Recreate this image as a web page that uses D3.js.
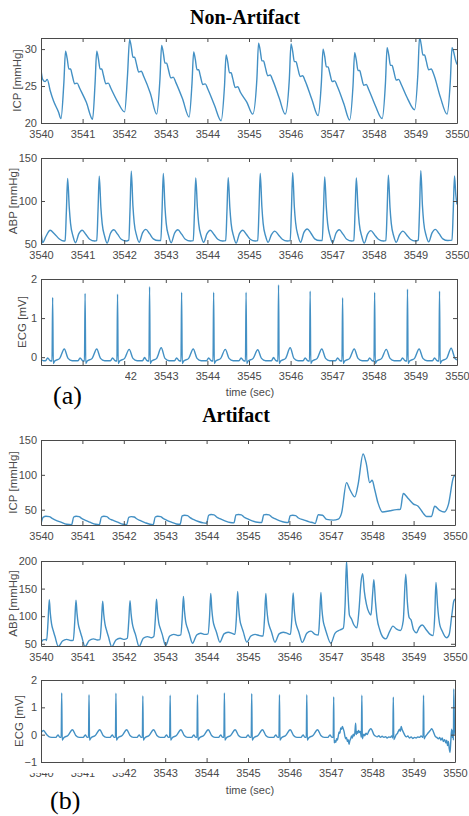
<!DOCTYPE html>
<html>
<head>
<meta charset="utf-8">
<script src="https://cdn.jsdelivr.net/npm/d3@7"></script>
<style>
  body { margin: 0; background: #fff; }
  .tick text { font-family: "Liberation Sans", Arial, sans-serif; font-size: 11px; fill: #4a4a4a; }
  .domain, .tick line { stroke: #4a4a4a; stroke-width: 1; }
</style>
</head>
<body>
<script>
// time axis: seconds, data times are offsets from T0
const T0 = 3540;
const xTickValues = [3540, 3541, 3542, 3543, 3544, 3545, 3546, 3547, 3548, 3549, 3550];

// ---- (a) Non-Artifact ----
const icpNon = [
  [0,27.2],[0.04,25.9],[0.10,25.6],[0.15,25.9],[0.22,24.4],[0.30,23.0],[0.42,21.5],
  [0.48,20.6],[0.55,25.5],[0.59,29.7],[0.63,28.7],[0.67,27.3],[0.71,27.3],[0.75,26.5],[0.81,25.3],[0.87,25.4],[0.93,24.7],[1.09,22.8],
  [1.24,20.5],[1.30,25.4],[1.34,29.7],[1.38,28.7],[1.42,27.3],[1.46,27.3],[1.50,26.5],[1.56,25.3],[1.62,25.4],[1.68,24.7],[1.84,22.9],
  [2.01,21.5],[2.08,26.5],[2.13,31.3],[2.17,30.3],[2.21,28.9],[2.25,28.9],[2.29,28.1],[2.35,26.9],[2.41,27.0],[2.47,26.3],[2.63,24.0],
  [2.78,21.2],[2.86,26.0],[2.90,30.5],[2.94,29.5],[2.98,28.1],[3.02,28.1],[3.06,27.3],[3.12,26.1],[3.18,26.2],[3.24,25.5],[3.40,23.3],
  [3.56,20.8],[3.63,25.4],[3.67,29.6],[3.71,28.6],[3.75,27.2],[3.79,27.2],[3.83,26.4],[3.89,25.2],[3.95,25.3],[4.01,24.6],[4.17,22.4],
  [4.33,20.3],[4.41,24.9],[4.45,29.2],[4.49,28.2],[4.53,26.8],[4.57,26.8],[4.61,26.0],[4.67,24.8],[4.73,24.9],[4.79,24.2],[4.95,22.8],
  [5.09,21.2],[5.19,26.0],[5.23,30.8],[5.27,29.8],[5.31,28.4],[5.35,28.4],[5.39,27.6],[5.45,26.4],[5.51,26.5],[5.57,25.8],[5.73,23.3],
  [5.87,21.2],[5.97,26.0],[6.01,30.7],[6.05,29.7],[6.09,28.3],[6.13,28.3],[6.17,27.5],[6.23,26.3],[6.29,26.4],[6.35,25.7],[6.51,23.2],
  [6.66,21.0],[6.74,25.5],[6.78,30.0],[6.82,29.0],[6.86,27.6],[6.90,27.6],[6.94,26.8],[7.00,25.6],[7.06,25.7],[7.12,25.0],[7.28,22.6],
  [7.42,20.4],[7.50,25.0],[7.54,29.5],[7.58,28.5],[7.62,27.1],[7.66,27.1],[7.70,26.3],[7.76,25.1],[7.82,25.2],[7.88,24.5],[8.04,22.3],
  [8.20,20.6],[8.28,25.4],[8.32,30.2],[8.36,29.2],[8.40,27.8],[8.44,27.8],[8.48,27.0],[8.54,25.8],[8.60,25.9],[8.66,25.2],[8.82,23.2],
  [8.98,21.8],[9.06,26.7],[9.10,31.6],[9.14,30.6],[9.18,29.2],[9.22,29.2],[9.26,28.4],[9.32,27.2],[9.38,27.3],[9.44,26.6],[9.60,23.5],
  [9.76,21.2],[9.84,25.7],[9.88,30.2],[9.92,29.6],[9.96,28.6],[10.0,27.9]
];

const abpNon = [
  [0,66],[0.04,51.5],[0.12,59],[0.22,66],[0.32,62],[0.45,55.5],[0.55,53.5],
  [0.58,54],[0.61,88],[0.64,126.1],[0.68,92],[0.71,74],[0.77,59],[0.83,51.5],[0.91,62],[0.99,66],[1.08,61],[1.17,55.5],[1.29,53.5],
  [1.34,54],[1.37,88],[1.40,128.8],[1.44,92],[1.47,74],[1.53,59],[1.59,51],[1.67,62.5],[1.75,66.5],[1.84,61.5],[1.93,55.5],[2.05,53.5],
  [2.11,54.5],[2.14,90],[2.17,134.6],[2.21,94],[2.24,75],[2.30,59.5],[2.36,52],[2.44,63],[2.52,67],[2.61,62],[2.70,56],[2.82,54],
  [2.88,54],[2.91,89],[2.94,131.9],[2.98,93],[3.01,74],[3.07,59],[3.13,51.5],[3.21,62.5],[3.29,66.5],[3.38,61.5],[3.47,55.5],[3.59,53.5],
  [3.66,54],[3.69,88],[3.72,126.8],[3.76,92],[3.79,74],[3.85,59],[3.91,52],[3.99,62],[4.07,66],[4.16,61],[4.25,55.5],[4.37,53.5],
  [4.44,54],[4.47,88],[4.50,127.2],[4.54,92],[4.57,74],[4.63,59],[4.69,51],[4.77,62],[4.85,66],[4.94,61],[5.03,55.5],[5.15,53.5],
  [5.21,54],[5.24,89],[5.27,131.9],[5.31,93],[5.34,74],[5.40,59],[5.46,52],[5.54,61],[5.62,65],[5.71,60.5],[5.80,55.5],[5.92,53.5],
  [5.99,54],[6.02,89],[6.05,133.0],[6.09,93],[6.12,75],[6.18,59.5],[6.24,52],[6.32,63.5],[6.40,67.5],[6.49,62.5],[6.58,56],[6.70,54],
  [6.76,54],[6.79,88],[6.82,128.0],[6.86,92],[6.89,74],[6.95,59],[7.01,51.5],[7.09,62.5],[7.17,66.5],[7.26,61.5],[7.35,55.5],[7.47,53.5],
  [7.52,54],[7.55,88],[7.58,126.8],[7.62,92],[7.65,74],[7.71,59],[7.77,51],[7.85,61.5],[7.93,65.5],[8.02,60.5],[8.11,55.5],[8.23,53.5],
  [8.29,54],[8.32,88],[8.35,129.9],[8.39,92],[8.42,74],[8.48,59],[8.54,52],[8.62,61],[8.70,65],[8.79,60.5],[8.88,55.5],[9.00,53.5],
  [9.07,54.5],[9.10,90],[9.13,135.3],[9.17,94],[9.20,75],[9.26,59.5],[9.32,52.5],[9.40,63],[9.48,67],[9.57,62],[9.66,56],[9.78,54],
  [9.88,54.5],[9.91,89],[9.94,129.2],[9.97,108],[10.0,96]
];

const ecgNon = [
  [0,-0.06],[0.06,-0.09],
  [0.11,-0.09],[0.16,-0.02],[0.21,-0.08],[0.265,-0.1],[0.28,1.53],[0.295,-0.16],[0.33,-0.1],[0.45,-0.03],[0.56,0.21],[0.65,-0.03],[0.75,-0.09],
  [0.89,-0.09],[0.94,-0.02],[0.99,-0.08],[1.045,-0.1],[1.06,1.63],[1.075,-0.16],[1.11,-0.1],[1.23,-0.03],[1.34,0.21],[1.43,-0.03],[1.53,-0.09],
  [1.67,-0.09],[1.72,-0.02],[1.77,-0.08],[1.825,-0.1],[1.84,1.61],[1.855,-0.16],[1.89,-0.1],[2.01,-0.03],[2.12,0.20],[2.21,-0.03],[2.31,-0.09],
  [2.44,-0.09],[2.49,-0.01],[2.54,-0.08],[2.595,-0.1],[2.61,1.80],[2.625,-0.16],[2.66,-0.1],[2.78,-0.03],[2.89,0.24],[2.98,-0.03],[3.08,-0.09],
  [3.21,-0.09],[3.26,-0.02],[3.31,-0.08],[3.365,-0.1],[3.38,1.66],[3.395,-0.16],[3.43,-0.1],[3.55,-0.03],[3.66,0.21],[3.75,-0.03],[3.85,-0.09],
  [3.98,-0.09],[4.03,-0.02],[4.08,-0.08],[4.135,-0.1],[4.15,1.66],[4.165,-0.16],[4.20,-0.1],[4.32,-0.03],[4.43,0.20],[4.52,-0.03],[4.62,-0.09],
  [4.76,-0.09],[4.81,-0.02],[4.86,-0.08],[4.915,-0.1],[4.93,1.66],[4.945,-0.16],[4.98,-0.1],[5.10,-0.03],[5.21,0.19],[5.30,-0.03],[5.40,-0.09],
  [5.54,-0.09],[5.59,-0.01],[5.64,-0.08],[5.695,-0.1],[5.71,1.85],[5.725,-0.16],[5.76,-0.1],[5.88,-0.03],[5.99,0.24],[6.08,-0.03],[6.18,-0.09],
  [6.30,-0.09],[6.35,-0.02],[6.40,-0.08],[6.455,-0.1],[6.47,1.69],[6.485,-0.16],[6.52,-0.1],[6.64,-0.03],[6.75,0.21],[6.84,-0.03],[6.94,-0.09],
  [7.08,-0.09],[7.13,-0.02],[7.18,-0.08],[7.235,-0.1],[7.25,1.52],[7.265,-0.16],[7.30,-0.1],[7.42,-0.03],[7.53,0.21],[7.62,-0.03],[7.72,-0.09],
  [7.85,-0.09],[7.90,-0.02],[7.95,-0.08],[8.005,-0.1],[8.02,1.66],[8.035,-0.16],[8.07,-0.1],[8.19,-0.03],[8.30,0.20],[8.39,-0.03],[8.49,-0.09],
  [8.64,-0.09],[8.69,-0.02],[8.74,-0.08],[8.795,-0.1],[8.81,1.74],[8.825,-0.16],[8.86,-0.1],[8.98,-0.03],[9.09,0.21],[9.18,-0.03],[9.28,-0.09],
  [9.41,-0.09],[9.46,-0.02],[9.51,-0.08],[9.565,-0.1],[9.58,1.69],[9.595,-0.16],[9.63,-0.1],[9.75,-0.03],[9.86,0.23],[9.95,-0.03],[10.0,-0.07]
];

// ---- (b) Artifact ----
const icpArt = [
  [0,30],[0.05,39],[0.12,40.5],[0.20,40],[0.27,37.5],[0.35,35],[0.48,32],[0.62,29],
  [0.74,28.5],[0.79,39.5],[0.85,40.5],[0.92,40],[0.98,37.5],[1.06,35],[1.18,32],[1.32,29],
  [1.41,28.5],[1.46,39.5],[1.52,40.5],[1.59,40],[1.65,37],[1.73,35],[1.85,32],[1.98,29],
  [2.07,28.5],[2.12,39],[2.18,40],[2.25,39.5],[2.31,37],[2.39,34.5],[2.51,31.5],[2.63,29],
  [2.71,28.5],[2.76,39.5],[2.82,40.5],[2.89,40],[2.95,37.5],[3.03,35],[3.15,32],[3.27,29.5],
  [3.36,29],[3.41,41],[3.47,42],[3.54,41.5],[3.60,38.5],[3.68,36],[3.80,33],[3.92,31],
  [4.00,30.5],[4.05,42],[4.11,43],[4.18,42.5],[4.24,39.5],[4.32,37],[4.44,34],[4.57,31.5],
  [4.66,31],[4.71,42.5],[4.77,43],[4.84,42.5],[4.90,39.5],[4.98,37],[5.10,34],[5.23,32],
  [5.33,31.5],[5.38,42.5],[5.44,43],[5.51,42.5],[5.57,39.5],[5.65,37],[5.77,34],[5.89,32],
  [5.97,31.5],[6.02,41.5],[6.08,42],[6.15,41.5],[6.22,38],[6.34,35.4],[6.48,32.5],[6.58,31],
  [6.62,30],[6.70,42.7],[6.80,42],[6.90,36],[7.06,35],[7.18,36.5],[7.26,45],[7.38,88.8],[7.46,79],
  [7.58,68.4],[7.66,86.4],[7.78,130],[7.86,115.5],[7.94,88.8],[8.00,92.2],[8.06,79],[8.14,59.7],
  [8.25,46.6],[8.43,48.5],[8.59,50],[8.68,50.5],[8.75,73.3],[8.87,66],[8.99,58.3],[9.11,54.9],
  [9.23,45.1],[9.31,40.3],[9.43,40.3],[9.51,54.9],[9.63,49],[9.74,46.6],[9.84,57.3],[9.96,96],[10.0,100]
];

const abpArt = [
  [0,52],[0.05,57],[0.12,58],
  [0.135,56],[0.17,90],[0.20,130],[0.225,105],[0.255,86],[0.295,74],[0.335,64],[0.42,45],[0.52,55],[0.62,58],[0.72,56],
  [0.78,56.5],[0.815,90],[0.845,129],[0.87,105],[0.90,86],[0.94,74],[0.98,64],[1.065,45],[1.165,56],[1.265,59],[1.365,57],
  [1.425,57.5],[1.46,90],[1.49,127],[1.515,104],[1.545,86],[1.585,74],[1.625,64],[1.71,44.5],[1.81,57],[1.91,60],[2.01,58],
  [2.085,60],[2.12,91],[2.15,128],[2.175,105],[2.205,87],[2.245,75],[2.285,66],[2.37,45],[2.47,60],[2.57,63],[2.67,61],
  [2.725,63],[2.76,93],[2.79,131],[2.815,107],[2.845,88],[2.885,77],[2.925,68],[3.01,47],[3.11,64],[3.21,67],[3.31,65],
  [3.375,66],[3.41,95],[3.44,136],[3.465,110],[3.495,90],[3.535,79],[3.575,70],[3.66,51],[3.76,66],[3.86,69],[3.96,67],
  [4.035,68],[4.07,97],[4.10,141],[4.125,113],[4.155,92],[4.195,80],[4.235,72],[4.32,53],[4.42,68],[4.52,71],[4.62,69],
  [4.685,67],[4.72,98],[4.75,145],[4.775,115],[4.805,93],[4.845,81],[4.885,72],[4.97,53],[5.07,64],[5.17,67],[5.27,65],
  [5.365,64],[5.40,97],[5.43,141],[5.455,113],[5.485,92],[5.525,80],[5.565,72],[5.65,53],[5.75,68],[5.85,71],[5.95,69],
  [6.025,67],[6.06,97],[6.09,142],[6.115,113],[6.145,92],[6.185,80],[6.225,72],[6.31,52.6],[6.42,69],[6.52,73],[6.62,67],
  [6.70,66],[6.73,97],[6.76,143],[6.785,113],[6.815,92],[6.855,80],[6.895,70],[7.00,51],[7.10,69],[7.22,75],[7.30,78],
  [7.345,120],[7.38,200],[7.41,150],[7.45,102],[7.50,95],[7.56,84],[7.63,79],[7.68,110],[7.73,162],[7.77,177],[7.81,145],
  [7.86,122],[7.92,107],[7.97,102],[8.01,140],[8.04,166],[8.08,125],[8.12,95],[8.18,76],[8.26,62],[8.33,59],[8.42,72],
  [8.50,82],[8.58,77],[8.68,74],[8.75,92],[8.81,176],[8.85,125],[8.89,98],[8.94,93],[9.00,75],[9.07,70],[9.14,80],[9.21,84],
  [9.30,76],[9.40,67],[9.47,65],[9.51,100],[9.54,161],[9.58,118],[9.63,85],[9.69,73],[9.75,64],[9.80,61],[9.86,67],
  [9.92,100],[9.97,127],[10.0,131]
];

const ecgArt = [
  [0,0.08],[0.06,0.15],[0.14,0.0],[0.22,-0.09],[0.30,-0.1],
  [0.36,-0.1],[0.41,-0.01],[0.45,-0.09],[0.488,-0.1],[0.50,1.53],[0.512,-0.2],[0.545,-0.12],[0.65,-0.03],[0.76,0.18],[0.84,-0.03],[0.92,-0.1],
  [1.02,-0.1],[1.07,-0.01],[1.11,-0.09],[1.148,-0.1],[1.16,1.46],[1.172,-0.2],[1.205,-0.12],[1.31,-0.03],[1.42,0.18],[1.50,-0.03],[1.58,-0.1],
  [1.67,-0.1],[1.72,-0.01],[1.76,-0.09],[1.798,-0.1],[1.81,1.52],[1.822,-0.2],[1.855,-0.12],[1.96,-0.03],[2.07,0.18],[2.15,-0.03],[2.23,-0.1],
  [2.32,-0.1],[2.37,-0.01],[2.41,-0.09],[2.448,-0.1],[2.46,1.42],[2.472,-0.2],[2.505,-0.12],[2.61,-0.03],[2.72,0.18],[2.80,-0.03],[2.88,-0.1],
  [2.98,-0.1],[3.03,-0.01],[3.07,-0.09],[3.108,-0.1],[3.12,1.44],[3.132,-0.2],[3.165,-0.12],[3.27,-0.03],[3.38,0.18],[3.46,-0.03],[3.54,-0.1],
  [3.64,-0.1],[3.69,-0.01],[3.73,-0.09],[3.768,-0.1],[3.78,1.46],[3.792,-0.2],[3.825,-0.12],[3.93,-0.03],[4.04,0.18],[4.12,-0.03],[4.20,-0.1],
  [4.29,-0.1],[4.34,-0.01],[4.38,-0.09],[4.418,-0.1],[4.43,1.53],[4.442,-0.2],[4.475,-0.12],[4.58,-0.03],[4.69,0.18],[4.77,-0.03],[4.85,-0.1],
  [4.95,-0.1],[5.00,-0.01],[5.04,-0.09],[5.078,-0.1],[5.09,1.50],[5.102,-0.2],[5.135,-0.12],[5.24,-0.03],[5.35,0.18],[5.43,-0.03],[5.51,-0.1],
  [5.62,-0.1],[5.67,-0.01],[5.71,-0.09],[5.748,-0.1],[5.76,1.46],[5.772,-0.2],[5.805,-0.12],[5.91,-0.03],[6.02,0.18],[6.10,-0.03],[6.18,-0.1],
  [6.28,-0.1],[6.33,-0.01],[6.37,-0.09],[6.408,-0.1],[6.42,1.46],[6.432,-0.2],[6.465,-0.12],[6.57,-0.03],[6.68,0.18],[6.76,-0.03],[6.84,-0.1],
  [6.93,-0.1],[6.98,-0.01],[7.02,-0.09],[7.058,-0.1],[7.07,1.38],
  [7.08,-0.3],[7.10,-0.22],[7.12,-0.28],[7.14,-0.15],[7.16,-0.2],[7.18,-0.05],[7.20,0.1],[7.22,0.05],[7.24,0.25],[7.26,0.2],
  [7.28,0.3],[7.30,0.22],[7.32,0.12],[7.34,-0.05],[7.36,-0.15],[7.38,-0.1],[7.40,-0.25],[7.42,-0.18],[7.44,-0.35],[7.46,-0.22],
  [7.48,-0.15],[7.50,-0.05],[7.52,-0.12],[7.54,0.02],[7.56,-0.05],[7.58,0.05],[7.60,0.42],[7.615,0.0],[7.63,0.12],[7.65,0.05],
  [7.67,0.15],[7.69,0.08],[7.71,0.12],[7.725,0.02],[7.738,-0.1],[7.75,1.44],[7.762,-0.15],[7.78,-0.05],[7.80,0.02],[7.82,-0.04],
  [7.85,0.05],[7.88,0.0],[7.91,0.1],[7.94,0.18],[7.97,0.22],[8.00,0.15],[8.04,0.0],[8.08,-0.05],[8.12,-0.08],[8.16,-0.04],
  [8.20,-0.1],[8.24,-0.06],[8.28,-0.1],[8.32,-0.07],[8.36,-0.12],[8.40,-0.08],[8.44,-0.1],[8.47,-0.05],[8.498,-0.12],[8.51,1.37],
  [8.522,-0.18],[8.55,-0.1],[8.58,0.0],[8.61,0.05],[8.63,0.12],[8.66,0.2],[8.68,0.12],[8.70,0.3],[8.72,0.2],[8.75,0.1],
  [8.78,0.0],[8.82,-0.08],[8.86,-0.05],[8.90,-0.12],[8.94,-0.08],[8.98,-0.14],[9.02,-0.1],[9.06,-0.12],[9.10,-0.08],[9.14,-0.1],
  [9.18,-0.05],[9.228,-0.1],[9.24,1.44],[9.252,-0.15],[9.28,-0.08],[9.32,0.0],[9.36,0.08],[9.40,0.15],[9.44,0.22],[9.48,0.1],
  [9.52,-0.05],[9.56,-0.1],[9.60,-0.15],[9.63,-0.1],[9.66,-0.2],[9.69,-0.12],[9.72,-0.25],[9.75,-0.18],[9.78,-0.3],[9.80,-0.2],
  [9.82,-0.4],[9.84,-0.25],[9.86,-0.5],[9.88,-0.65],[9.90,-0.2],[9.92,0.2],[9.935,-0.1],[9.95,0.15],[9.962,-0.2],[9.97,1.67],
  [9.985,0.4],[10.0,0.0]
];

const width = 469, height = 816;
const lineColor = '#4390c4';

const svg = d3.select('body').append('svg')
  .attr('width', width)
  .attr('height', height);

const panels = [
  { data: icpNon, yDomain: [20, 31.5], yTicks: [20, 25, 30],       label: 'ICP [mmHg]', top: 38,  bottom: 123, left: 41, right: 457, labelX: 17 },
  { data: abpNon, yDomain: [50, 150],  yTicks: [50, 100, 150],     label: 'ABP [mmHg]', top: 158, bottom: 244, left: 41, right: 457, labelX: 13 },
  { data: ecgNon, yDomain: [-0.2, 2],  yTicks: [0, 1, 2],          label: 'ECG [mV]',   top: 279, bottom: 365, left: 41, right: 457, labelX: 22 },
  { data: icpArt, yDomain: [28, 150],  yTicks: [50, 100, 150],     label: 'ICP [mmHg]', top: 440, bottom: 525, left: 41, right: 455, labelX: 13 },
  { data: abpArt, yDomain: [46, 200],  yTicks: [50, 100, 150, 200], label: 'ABP [mmHg]', top: 561, bottom: 646, left: 41, right: 455, labelX: 13 },
  { data: ecgArt, yDomain: [-1, 2],    yTicks: [-1, 0, 1, 2],      label: 'ECG [mV]',   top: 680, bottom: 762, left: 41, right: 455, labelX: 19 }
];

panels.forEach((p, i) => {
  const x = d3.scaleLinear().domain([3540, 3550]).range([p.left, p.right]);
  const y = d3.scaleLinear().domain(p.yDomain).range([p.bottom, p.top]);

  svg.append('clipPath').attr('id', 'clip' + i)
    .append('rect')
    .attr('x', p.left).attr('y', p.top)
    .attr('width', p.right - p.left).attr('height', p.bottom - p.top);

  const line = d3.line()
    .x(d => x(T0 + d[0]))
    .y(d => y(d[1]))
    .curve(d3.curveMonotoneX);

  svg.append('path')
    .datum(p.data)
    .attr('clip-path', `url(#clip${i})`)
    .attr('d', line)
    .attr('fill', 'none')
    .attr('stroke', lineColor)
    .attr('stroke-width', 1.4)
    .attr('stroke-linejoin', 'round');

  // box with inward ticks on all four sides (matlab style)
  svg.append('g')
    .attr('transform', `translate(0, ${p.bottom})`)
    .call(d3.axisBottom(x).tickValues(xTickValues).tickFormat(d3.format('d'))
      .tickSizeInner(-4).tickSizeOuter(0).tickPadding(7));

  svg.append('g')
    .attr('transform', `translate(0, ${p.top})`)
    .call(d3.axisTop(x).tickValues(xTickValues).tickFormat('')
      .tickSizeInner(-4).tickSizeOuter(0));

  svg.append('g')
    .attr('transform', `translate(${p.left}, 0)`)
    .call(d3.axisLeft(y).tickValues(p.yTicks).tickFormat(d3.format('d'))
      .tickSizeInner(-4).tickSizeOuter(0).tickPadding(4));

  svg.append('g')
    .attr('transform', `translate(${p.right}, 0)`)
    .call(d3.axisRight(y).tickValues(p.yTicks).tickFormat('')
      .tickSizeInner(-4).tickSizeOuter(0));

  svg.append('text')
    .attr('transform', `translate(${p.labelX}, ${(p.top + p.bottom) / 2}) rotate(-90)`)
    .attr('text-anchor', 'middle')
    .attr('dy', '0.35em')
    .style('font-family', '"Liberation Sans", Arial, sans-serif')
    .style('font-size', '11.5px')
    .style('fill', '#4a4a4a')
    .text(p.label);
});

// titles and captions
const serif = '"Liberation Serif", "Times New Roman", serif';
const sans = '"Liberation Sans", Arial, sans-serif';

svg.append('text').attr('x', 245).attr('y', 24).attr('text-anchor', 'middle')
  .style('font-family', serif).style('font-weight', 'bold').style('font-size', '20px')
  .text('Non-Artifact');

svg.append('text').attr('x', 236).attr('y', 422).attr('text-anchor', 'middle')
  .style('font-family', serif).style('font-weight', 'bold').style('font-size', '20px')
  .text('Artifact');

[392, 790].forEach(yy => {
  svg.append('text').attr('x', 250).attr('y', yy).attr('dy', '0.35em').attr('text-anchor', 'middle')
    .style('font-family', sans).style('font-size', '11px').style('fill', '#4a4a4a')
    .text('time (sec)');
});

// panel letters sit on white patches that hide part of the first tick labels
svg.append('rect').attr('x', 4).attr('y', 371).attr('width', 121).attr('height', 40).attr('fill', '#fff');
svg.append('text').attr('x', 53).attr('y', 404)
  .style('font-family', serif).style('font-size', '26px').text('(a)');

svg.append('rect').attr('x', 0).attr('y', 767).attr('width', 124).attr('height', 6).attr('fill', '#fff');
svg.append('text').attr('x', 50).attr('y', 809)
  .style('font-family', serif).style('font-size', '26px').text('(b)');
</script>
</body>
</html>
